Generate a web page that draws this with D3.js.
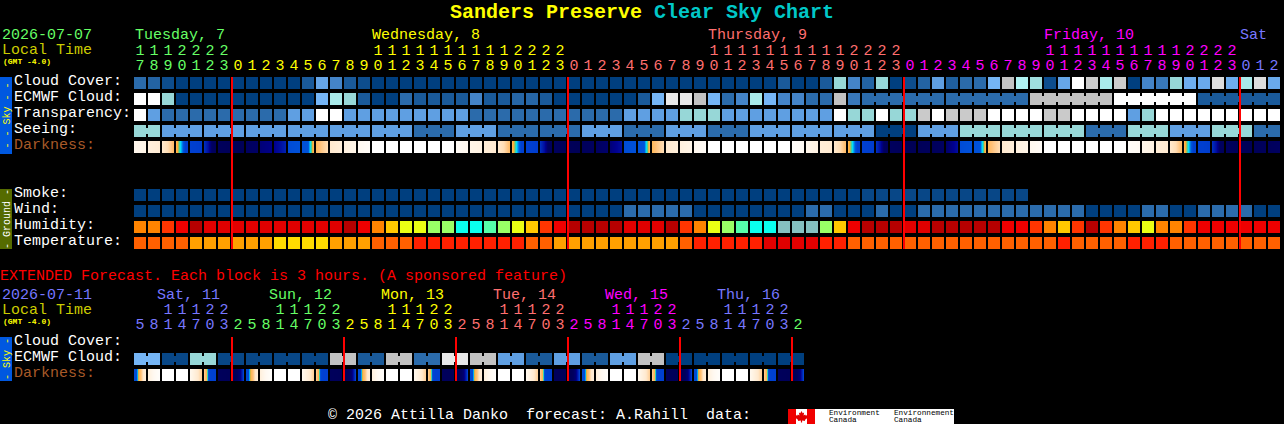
<!DOCTYPE html>
<html><head><meta charset="utf-8">
<script src="https://cdn.jsdelivr.net/npm/d3@7/dist/d3.min.js"></script>
<style>
html,body{margin:0;padding:0;background:#000;overflow:hidden}
svg{display:block}
text{font-family:"Liberation Mono",monospace;font-size:15px;white-space:pre}
rect{shape-rendering:crispEdges}
</style></head><body>
<svg id="c" width="1284" height="424"></svg>
<script>
// ---------- 1-hour forecast (82 blocks). Values are colour-scale levels ----------
const hours = [17,18,19,20,21,22,23,0,1,2,3,4,5,6,7,8,9,10,11,12,13,14,15,16,17,18,19,20,21,22,23,
  0,1,2,3,4,5,6,7,8,9,10,11,12,13,14,15,16,17,18,19,20,21,22,23,
  0,1,2,3,4,5,6,7,8,9,10,11,12,13,14,15,16,17,18,19,20,21,22,23,0,1,2];
const hourDays = [0,0,0,0,0,0,0,1,1,1,1,1,1,1,1,1,1,1,1,1,1,1,1,1,1,1,1,1,1,1,1,
  2,2,2,2,2,2,2,2,2,2,2,2,2,2,2,2,2,2,2,2,2,2,2,2,
  3,3,3,3,3,3,3,3,3,3,3,3,3,3,3,3,3,3,3,3,3,3,3,3,4,4,4];
const dayLabels = ["Tuesday, 7","Wednesday, 8","Thursday, 9","Friday, 10","Sat"];
const dayLabelBlocks = [0,17,41,65,79];
const midnightBlocks = [7,31,55,79];

const cloudCover = [
 2,1.5,.5,0,0,0,0,0,0,0, 0,0,1,4.3,3,1,.5,0,0,0,
 0,0,0,0,0,0,0,0,0,0, 0,0,0,0,0,0,0,0,0,0,
 0,0,0,0,0,0,1,0,0,1, 6,3,1.5,6,0,.5,1.5,4,1.3,2,
 2,5,8,7,6.3,.5,4.3,10,8.3,6.7, 8.3,0,3,2.5,6,4.7,4.5,8.7,4.7,6.7,
 8.7,4.5];
const ecmwfCloud = [
 10,10,6,0,0,0,0,0,0,0, 0,0,0,5,6.7,6,1,0,0,2,
 1,1,1,1,3,1,1,1.7,1.7,1, 0,0,0,0,0,0,1,5,9,9,
 8,5,2,3,6.7,5,3,3,2,2, 8,2.5,2,2,2,2,2,2,2,2,
 2,2,2,2,8,8,8,8,8,8, 10,10,10,10,10,10,1,1,1,1,
 1,1];
const ecmwfGroups = [1,1,1,1,1,1,1,1,1,1,1,1,1,1,1,1,1,1,1,1,1,1,1,1,1,1,
 1,1,1,1,1,1,1,1,1,1,1,1,1,1,1,1,1,1,1,1,1,1,1,1,1,1,6,6,6,6,6];
const transparency = [
 10,4,2,2,2,2,2,2,2,2, 2,4,4,10,10,4,4,4,4,4,
 4,4,4,4,2,2,2,2,2,2, 2,2,2,2,2,4,4,4,4,6,
 6,6,4,4,4,4,4,4,4,4, 10,6,6,10,6,6,8.2,10,8.2,8.2,
 8.2,10,10,10,10,8.2,8.2,10,10,10, 10,4,6,10,10,10,10,10,10,10,
 10,10];
const seeing = [
 6,6,4,4,4,4,4,4,4,4, 4,4,4,4,4,4,4,4,4,4,
 2,2,2,4,4,4,2,2,2,2, 2,2,4,4,4,2,2,2,4,4,
 4,2,2,2,4,4,4,4,4,4, 4,4,4,0,0,0,4,4,4,6,
 6,6,6,6,6,6,6,6,2,2, 2,6,6,6,4,4,4,6,6,6,
 2,2];
const seeingGroups = [2,3,3,3,3,3,3,3,3,3,3,3,3,3,3,3,3,3,3,3,3,3,3,3,3,3,3,2];
// each block: darkness levels sampled left to right across the block
const darkness = [
 [.8,1],[1.4,1.7],[2,2.3,3.2],[3.6,4.4,5.3,6,7,7],[7,7.1],[7.6,8.5,10,10.2],[10.2,10.3],[10.3,10.4],[10,9.9],[9.5,9.2],
 [9,8.6,8],[6.5,6.3],[6.3,6.3,6.2,5,3.6],[3.4,2.8,2.3],[1.9,1.5],[1.3,1],[.6,.3],[0,0],[0,0],[0,0],
 [0,0],[0,0],[0,0],[.4,.7],[1,1.2],[1.6,1.8],[2,2.3,3.2],[3.6,4.4,5.3,6,7,7],[7,7.1],[7.6,8.5,10,10.2],
 [10.1,10.3],[10.3,10.4],[10.2,10.1],[10,9.8],[9.5,9,8.6],[6.5,6.3],[6.3,6.3,6.2,5,3.6],[3.4,2.8,2.3],[1.9,1.5],[1.3,1],
 [.7,.4],[0,0],[0,0],[0,0],[0,0],[0,0],[0,0],[.3,.5],[.9,1.2],[1.6,1.8],
 [2,2.3,3.2],[3.6,4.4,5.3,6,7,7],[7,7.1],[7.6,8.5,10,10.2],[10.1,10.3],[10.3,10.4],[10.3,10.2],[10.2,10],[9.8,9.2,8.6],[6.5,6.3],
 [6.3,6.3,6.2,5,3.6],[3.4,2.8,2.3],[1.9,1.5],[1.3,1],[.7,.4],[0,0],[0,0],[0,0],[0,0],[0,0],
 [0,0],[.3,.5],[.9,1.2],[1.6,1.8],[2,2.3,3.2],[3.6,4.4,5.3,6,7,7],[7,7.1],[7.6,8.5,10,10.2],[10.1,10.3],[10.3,10.4],
 [10.3,10.2],[10.2,10]];

const smoke = [
 0,0,0,0,0,0,0,0,0,0, 0,0,0,0,0,0,0,0,0,0,
 0,0,0,0,0,0,0,0,0,0, 0,0,0,0,0,0,0,0,0,0,
 0,0,0,0,0,0,0,0,0,0, 0,0,.3,.3,.3,.3,.3,.3,.3,.3,
 .3,.3,.3,.3];
const wind = [
 0,0,0,0,0,0,0,0,0,0, 0,0,0,0,0,0,0,0,0,0,
 0,0,0,0,0,0,0,0,0,0, 0,0,0,0,0,2,2,2,2,2,
 0,0,0,0,0,0,0,0,2,2, 0,0,0,2,0,0,2,2,2,2,
 2,2,2,2,2,2,2,2,0,0, 0,0,2,2,0,0,2,2,2,2,
 0,0];
const humidity = [
 4,4,3,2,0,1,1,1,1,1, 1,1,1,1,1,0,2,4,5,6,
 6,7,7,9,9,8,7,6,5,3, 2,0,0,0,0,1,1,1,0,3,
 4,6,7,8,9,9,10,10,10,7, 5,2,0,0,0,1,1,0,0,0,
 0,0,2,2,3,4,5,3,0,3, 4,5,6,4,4,3,2,2,2,2,
 2,2];
const temperature = [
 2,2,2,2,3,3,3,3,3,3, 4,4,4,4,3,3,3,2,2,2,
 1,1,1,1,1,1,1,1,2,2, 3,3,3,3,3,3,3,3,3,2,
 1,1,1,1,1,0,0,0,0,1, 1,2,2,2,2,2,2,2,2,2,
 2,2,2,2,2,2,1,2,2,2, 2,1,1,1,2,2,2,2,2,2,
 2,2];

// ---------- 3-hour extended forecast (48 blocks) ----------
const extHours = [5,8,11,14,17,20,23,2,5,8,11,14,17,20,23,2,5,8,11,14,17,20,23,2,
  5,8,11,14,17,20,23,2,5,8,11,14,17,20,23,2,5,8,11,14,17,20,23,2];
const extHourDays = [4,4,4,4,4,4,4,0,0,0,0,0,0,0,0,1,1,1,1,1,1,1,1,2,
  2,2,2,2,2,2,2,3,3,3,3,3,3,3,3,4,4,4,4,4,4,4,4,0];
const extDayLabels = ["Sat, 11","Sun, 12","Mon, 13","Tue, 14","Wed, 15","Thu, 16"];
const extDayLabelBlocks = [1.65,9.65,17.65,25.65,33.65,41.65];
const extMidnightBlocks = [7,15,23,31,39,47];
const extEcmwf = [5,.3,6,.3,.3,.3,.3,8,1,8,2,9,8,4,1,4,1,4,8,0,0,0,0,0];
const extEcmwfGroups = [2,2,2,2,2,2,2,2,2,2,2,2,2,2,2,2,2,2,2,2,2,2,2,2];
const extDarkness = [
 [6.6,6.6,3.6,3,2,1.6],[1.4,.6,.2],[0,0],[0,0],[.8,1.6,2.6],[2.8,3.6,6.8,7,7,7],[10.2,10.3],[10.3,10.2,9.6,7],
 [6.6,6.6,3.6,3,2,1.6],[1.4,.6,.2],[0,0],[0,0],[.8,1.6,2.6],[2.8,3.6,6.8,7,7,7],[10.2,10.3],[10.3,10.2,9.6,7],
 [6.6,6.6,3.6,3,2,1.6],[1.4,.6,.2],[0,0],[0,0],[.8,1.6,2.6],[2.8,3.6,6.8,7,7,7],[10.2,10.3],[10.3,10.2,9.6,7],
 [6.6,6.6,3.6,3,2,1.6],[1.4,.6,.2],[0,0],[0,0],[.8,1.6,2.6],[2.8,3.6,6.8,7,7,7],[10.2,10.3],[10.3,10.2,9.6,7],
 [6.6,6.6,3.6,3,2,1.6],[1.4,.6,.2],[0,0],[0,0],[.8,1.6,2.6],[2.8,3.6,6.8,7,7,7],[10.2,10.3],[10.3,10.2,9.6,7],
 [6.6,6.6,3.6,3,2,1.6],[1.4,.6,.2],[0,0],[0,0],[.8,1.6,2.6],[2.8,3.6,6.8,7,7,7],[10.2,10.3],[10.3,10.2,9.6,7]];

// ---------- colour scales ----------
const dayColors = ["#66FF66","#FFFF00","#FF6F6F","#FF00FF","#7777FF"];
const cloudColor = d3.scaleLinear().domain(d3.range(11))
  .range(["#003F7F","#1A5A9A","#2B6BAB","#4484C8","#5F9FE2","#75B5F5","#97D7D7","#B0F2F2","#C2C2C2","#E8E8E8","#FFFFFF"]);
const darkColor = d3.scaleLinear().domain([0,1,2,3,4,4.6,5.2,6,7,8,9,10,11])
  .range(["#FFFFFF","#FFF5E8","#FFE8CC","#FFC27A","#FFAC30","#50D090","#00DDFF","#0058DC","#0040D0","#0020B0","#000090","#000060","#000048"]);
const humidColor = d3.scaleOrdinal().domain(d3.range(11))
  .range(["#B60000","#E00000","#EF0000","#FF3500","#FF8400","#FFC800","#EAFF14","#99FF66","#55FFAA","#0AFFEE","#85C0C0"]);
const tempColor = d3.scaleOrdinal().domain(d3.range(5))
  .range(["#E00000","#FF2000","#FF6000","#FFA000","#FFDC00"]);

// ---------- drawing ----------
const svg = d3.select("#c");
svg.append("rect").attr("width",1284).attr("height",424).attr("fill","#000");
const x = d3.scaleBand().domain(d3.range(82)).range([134,1280]).paddingInner(2/14);
const xe = d3.scaleBand().domain(d3.range(48)).range([134,804]).paddingInner(2/14);
const at = (scale,i)=>Math.round(scale(i));
const bw = scale=>Math.round(scale.bandwidth());
const st = scale=>Math.round(scale.step());

function txt(s,px,py,fill,opts={}){
  const t = svg.append("text").attr("x",px).attr("y",py).attr("fill",fill).text(s);
  if(opts.size) t.style("font-size",opts.size+"px");
  if(opts.bold) t.style("font-weight","bold");
  if(opts.anchor) t.attr("text-anchor",opts.anchor);
  return t;
}
function row(values,scale,color,y){
  svg.append("g").selectAll("rect").data(values).join("rect")
    .attr("x",(d,i)=>at(scale,i)).attr("y",y).attr("width",bw(scale)).attr("height",12)
    .attr("fill",d=>color(d));
}
function necks(values,groups,scale,color,y){
  let start=0; const joins=[];
  groups.forEach(n=>{ for(let k=0;k<n-1;k++) joins.push(start+k); start+=n; });
  svg.append("g").selectAll("rect").data(joins).join("rect")
    .attr("x",i=>at(scale,i)+bw(scale)).attr("y",y+3)
    .attr("width",st(scale)-bw(scale)).attr("height",6)
    .attr("fill",i=>color(values[i]));
}
function darkRow(values,scale,y){
  const g = svg.append("g");
  values.forEach((samples,i)=>{
    const w = bw(scale);
    const pos = d3.scaleLinear().domain(d3.range(samples.length).map(k=>k*(w-1)/(samples.length-1))).range(samples);
    g.selectAll(null).data(d3.range(w)).join("rect")
      .attr("x",c=>at(scale,i)+c).attr("y",y).attr("width",1).attr("height",12)
      .attr("fill",c=>darkColor(pos(c)));
  });
}
function hourRows(hrs,days,scale,yTens,yUnits){
  const g = svg.append("g").attr("text-anchor","middle");
  hrs.forEach((h,i)=>{
    const cx = at(scale,i)+bw(scale)/2, col = dayColors[days[i]];
    if(h>=10) g.append("text").attr("x",cx).attr("y",yTens).attr("fill",col).text(Math.floor(h/10));
    g.append("text").attr("x",cx).attr("y",yUnits).attr("fill",col).text(h%10);
  });
}
function sideBar(y,h,fill,label,col){
  svg.append("rect").attr("x",0).attr("y",y).attr("width",12).attr("height",h).attr("fill",fill);
  svg.append("text").attr("transform",`translate(9.5,${y+h/2}) rotate(-90)`).attr("text-anchor","middle")
    .attr("fill",col).style("font-size","10px").text(label);
}
function redLines(blocks,scale,y1,y2){
  svg.append("g").selectAll("rect").data(blocks).join("rect")
    .attr("x",b=>at(scale,b)-1).attr("y",y1).attr("width",2).attr("height",y2-y1).attr("fill","#FF0000");
}

// title
const title = txt("",450,18,"#FFFF00",{size:20,bold:true});
title.append("tspan").attr("fill","#FFFF00").text("Sanders Preserve ");
title.append("tspan").attr("fill","#00C8C8").text("Clear Sky Chart");

// header
txt("2026-07-07",2,39,"#66FF66");
txt("Local Time",2,54,"#CCCC00");
txt("(GMT -4.0)",3,64,"#FFFF00",{size:8,bold:true});
dayLabels.forEach((d,i)=>txt(d,at(x,dayLabelBlocks[i])+(i?0:1),39,dayColors[i]));
hourRows(hours,hourDays,x,55,70);

// row labels
const skyRows = ["Cloud Cover:","ECMWF Cloud:","Transparency:","Seeing:","Darkness:"];
const groundRows = ["Smoke:","Wind:","Humidity:","Temperature:"];
skyRows.forEach((s,i)=>txt(s,14,85+16*i,s==="Darkness:"?"#A85A28":"#FFFFFF"));
groundRows.forEach((s,i)=>txt(s,14,197+16*i,"#FFFFFF"));
sideBar(77,77,"#0058E0","- - Sky - -","#FFFF00");
sideBar(189,60,"#556B00","- Ground -","#FFFFFF");

// sky rows
row(cloudCover,x,cloudColor,77);
row(ecmwfCloud,x,cloudColor,93); necks(ecmwfCloud,ecmwfGroups,x,cloudColor,93);
row(transparency,x,cloudColor,109);
row(seeing,x,cloudColor,125); necks(seeing,seeingGroups,x,cloudColor,125);
darkRow(darkness,x,141);
// ground rows
row(smoke,x,cloudColor,189);
row(wind,x,cloudColor,205);
row(humidity,x,humidColor,221);
row(temperature,x,tempColor,237);
redLines(midnightBlocks,x,77,249);

// extended
txt("EXTENDED Forecast. Each block is 3 hours. (A sponsored feature)",0,280,"#FF0000");
txt("2026-07-11",2,299,"#7777FF");
txt("Local Time",2,314,"#CCCC00");
txt("(GMT -4.0)",3,324,"#FFFF00",{size:8,bold:true});
extDayLabels.forEach((d,i)=>txt(d,xe(0)+extDayLabelBlocks[i]*st(xe),299,dayColors[(i+4)%5]));
hourRows(extHours,extHourDays,xe,314,329);
["Cloud Cover:","ECMWF Cloud:","Darkness:"].forEach((s,i)=>txt(s,14,345+16*i,s==="Darkness:"?"#A85A28":"#FFFFFF"));
sideBar(337,44,"#0058E0","- Sky -","#FFFF00");
row(extEcmwf.flatMap(v=>[v,v]),xe,cloudColor,353);
necks(extEcmwf.flatMap(v=>[v,v]),extEcmwfGroups,xe,cloudColor,353);
darkRow(extDarkness,xe,369);
redLines(extMidnightBlocks,xe,337,381);

// footer
txt("\u00A9 2026 Attilla Danko  forecast: A.Rahill  data:",328,419,"#FFFFFF");
svg.append("rect").attr("x",788).attr("y",409).attr("width",166).attr("height",15).attr("fill","#FFFFFF");
svg.append("rect").attr("x",788).attr("y",409).attr("width",8).attr("height",15).attr("fill","#F00000");
svg.append("rect").attr("x",807).attr("y",409).attr("width",8).attr("height",15).attr("fill","#F00000");
svg.append("path").attr("fill","#E00000")
  .attr("d","M801.5 411l1.2 2.2 1.4-.6-.5 3 1.6-1.2.4 1.2 1.9-.3-.6 2 .7.4-2.8 2.2.3 1.1-3-.4v2h-1.2v-2l-3 .4.3-1.1-2.8-2.2.7-.4-.6-2 1.9.3.4-1.2 1.6 1.2-.5-3 1.4.6z");
[["Environment",829],["Environnement",894]].forEach(([s,px])=>txt(s,px,415,"#000000",{size:7.7}));
[["Canada",829],["Canada",894]].forEach(([s,px])=>txt(s,px,422,"#000000",{size:7.7}));
</script>
</body></html>
